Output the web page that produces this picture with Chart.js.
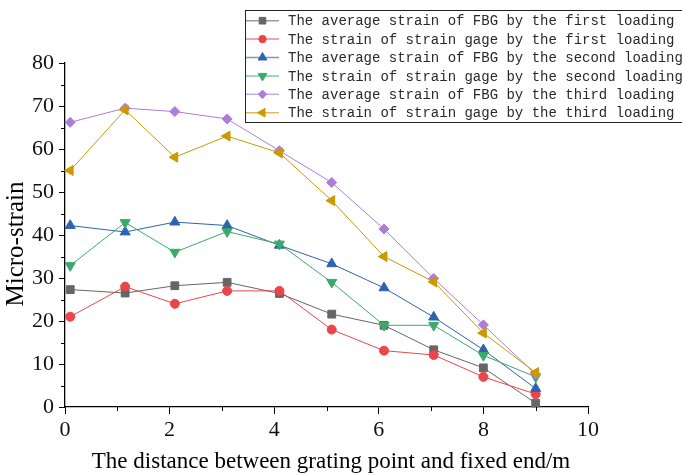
<!DOCTYPE html>
<html>
<head>
<meta charset="utf-8">
<script src="https://cdn.jsdelivr.net/npm/chart.js@4.4.1/dist/chart.umd.min.js"></script>
<style>
  html, body { margin: 0; padding: 0; background: #fff; }
  #wrap { width: 682px; height: 475px; }
</style>
</head>
<body>
<div id="wrap"><canvas id="strain-plot" width="682" height="475"></canvas></div>
<script>
// distance from fixed end (m)
const distance = [0.1, 1.15, 2.1, 3.1, 4.1, 5.1, 6.1, 7.05, 8.0, 9.0];

const fbgFirst    = [27.3, 26.5, 28.2, 29.0, 26.4, 21.6, 19.0, 13.3, 9.1, 0.9];
const gageFirst   = [21.0, 28.0, 24.0, 27.0, 27.0, 18.0, 13.1, 12.1, 7.0, 3.0];
const fbgSecond   = [42.2, 40.7, 43.0, 42.2, 37.6, 33.3, 27.7, 20.9, 13.3, 4.3];
const gageSecond  = [32.9, 42.9, 36.0, 40.8, 37.9, 29.0, 19.0, 19.0, 12.0, 7.0];
const fbgThird    = [66.2, 69.5, 68.7, 67.0, 59.6, 52.2, 41.4, 29.9, 19.1, 7.6];
const gageThird   = [55.0, 69.1, 58.1, 63.0, 59.1, 48.0, 35.0, 29.1, 17.2, 8.0];

const seriesLabels = [
    'The average strain of FBG by the first loading',
    'The strain of strain gage by the first loading',
    'The average strain of FBG by the second loading',
    'The strain of strain gage by the second loading',
    'The average strain of FBG by the third loading',
    'The strain of strain gage by the third loading'
];
const seriesValues = [fbgFirst, gageFirst, fbgSecond, gageSecond, fbgThird, gageThird];
const seriesColors = ['#666666', '#E8464A', '#2F62B0', '#3AAA6B', '#AC7ED5', '#CC9900'];
const markers = [
    {style: 'rect', rot: 0, r: 5.5},
    {style: 'circle', rot: 0, r: 4.5},
    {style: 'triangle', rot: 0, r: 5.8},
    {style: 'triangle', rot: 180, r: 5.8},
    {style: 'rectRot', rot: 0, r: 5},
    {style: 'triangle', rot: -90, r: 5.8}
];

const xTicks = [0, 2, 4, 6, 8, 10];
const yTicks = [0, 10, 20, 30, 40, 50, 60, 70, 80];

const datasets = seriesValues.map((vals, i) => ({
    label: seriesLabels[i],
    data: vals.map((v, j) => ({x: distance[j], y: v})),
    borderColor: seriesColors[i],
    backgroundColor: seriesColors[i],
    borderWidth: 1,
    pointStyle: markers[i].style,
    pointRotation: markers[i].rot,
    pointRadius: markers[i].r,
    pointBorderWidth: 1,
    clip: false,
    order: -i
}));

// minor ticks, axis titles and the boxed legend
const extras = {
    id: 'extras',
    afterDraw(chart) {
        const ctx = chart.ctx;
        const xs = chart.scales.x, ys = chart.scales.y;
        const area = chart.chartArea;
        ctx.save();
        ctx.strokeStyle = '#000';
        ctx.lineWidth = 1;
        for (let v = 1; v < 10; v += 2) {
            const px = Math.round(xs.getPixelForValue(v)) + 0.5;
            ctx.beginPath(); ctx.moveTo(px, area.bottom); ctx.lineTo(px, area.bottom + 4); ctx.stroke();
        }
        for (let v = 5; v < 80; v += 10) {
            const py = Math.round(ys.getPixelForValue(v)) + 0.5;
            ctx.beginPath(); ctx.moveTo(area.left - 4, py); ctx.lineTo(area.left, py); ctx.stroke();
        }

        ctx.fillStyle = '#000';
        ctx.font = '23px "Liberation Serif"';
        ctx.textAlign = 'center';
        ctx.textBaseline = 'middle';
        ctx.fillText('The distance between grating point and fixed end/m', 331, 462);
        ctx.save();
        ctx.translate(16, 244);
        ctx.rotate(-Math.PI / 2);
        ctx.font = '25px "Liberation Serif"';
        ctx.fillText('Micro-strain', 0, 0);
        ctx.restore();

        // legend
        ctx.fillStyle = '#fff';
        ctx.fillRect(245.5, 10.5, 450, 112);
        ctx.strokeStyle = '#222';
        ctx.strokeRect(245.5, 10.5, 450, 112);
        ctx.font = '14px "Liberation Mono"';
        ctx.textAlign = 'left';
        seriesLabels.forEach((lab, i) => {
            const y = 20.7 + i * 18.4;
            ctx.save();
            ctx.globalAlpha = 0.65;
            ctx.strokeStyle = seriesColors[i];
            ctx.lineWidth = 1.5;
            ctx.beginPath(); ctx.moveTo(246, y); ctx.lineTo(279, y); ctx.stroke();
            ctx.restore();
            ctx.fillStyle = seriesColors[i];
            ctx.strokeStyle = seriesColors[i];
            ctx.lineWidth = 1;
            Chart.helpers.drawPoint(ctx, {pointStyle: markers[i].style, rotation: markers[i].rot,
                radius: markers[i].r - 0.8, borderWidth: 1}, 262.5, y);
            ctx.fillStyle = '#2a2a2a';
            ctx.fillText(lab, 288, y + 1);
        });
        ctx.restore();
    }
};

new Chart(document.getElementById('strain-plot').getContext('2d'), {
    type: 'line',
    data: { datasets },
    options: {
        responsive: false,
        animation: false,
        devicePixelRatio: 1,
        layout: { padding: { top: 63, right: 94, left: 0, bottom: 0 } },
        plugins: { legend: { display: false }, tooltip: { enabled: false } },
        scales: {
            x: {
                type: 'linear', min: 0, max: 10,
                afterFit: s => { s.height = 68; },
                afterBuildTicks: s => { s.ticks = xTicks.map(v => ({value: v})); },
                border: { color: '#000', width: 1.3 },
                grid: { drawOnChartArea: false, tickLength: 7, tickColor: '#000' },
                ticks: { color: '#111', padding: 3, font: { family: 'Liberation Serif', size: 22 } }
            },
            y: {
                min: 0, max: 80,
                afterFit: s => { s.width = 65; },
                afterBuildTicks: s => { s.ticks = yTicks.map(v => ({value: v})); },
                border: { color: '#000', width: 1.3 },
                grid: { drawOnChartArea: false, tickLength: 6, tickColor: '#000' },
                ticks: { color: '#111', padding: 5, font: { family: 'Liberation Serif', size: 22 } }
            }
        }
    },
    plugins: [extras]
});
</script>
</body>
</html>
